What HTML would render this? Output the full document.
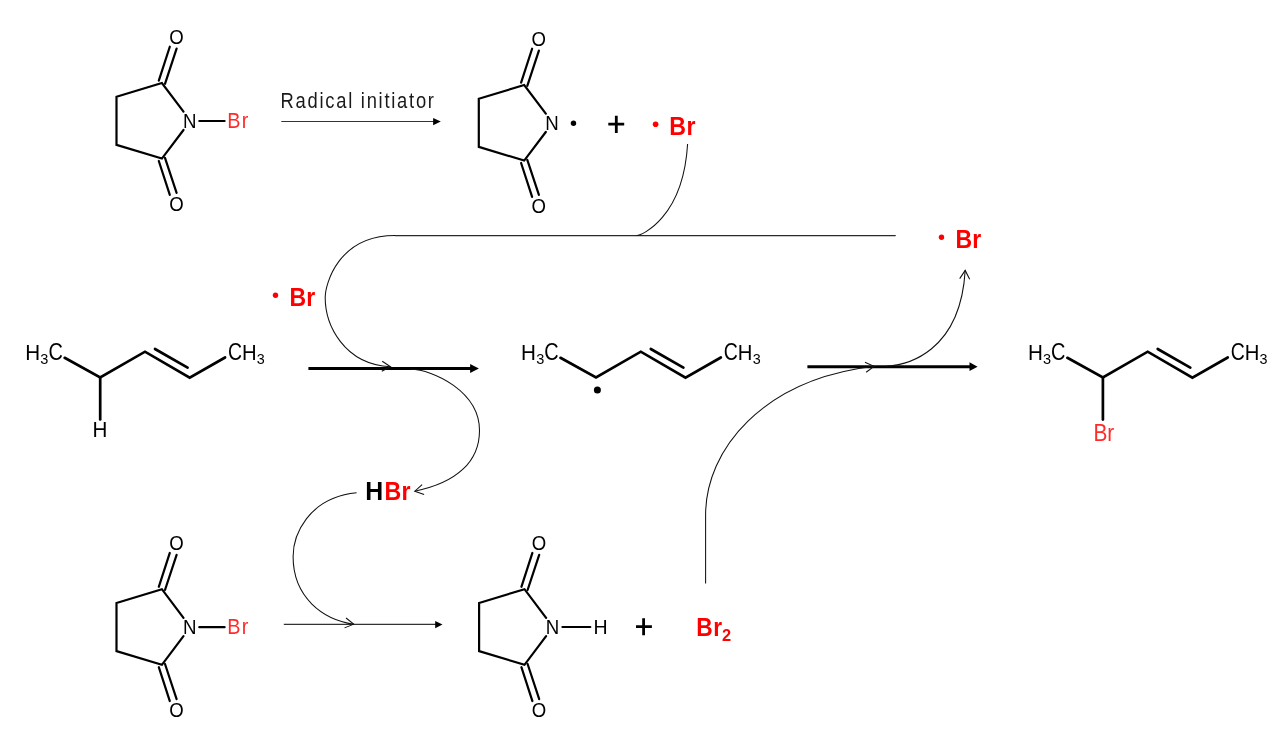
<!DOCTYPE html>
<html><head><meta charset="utf-8">
<style>
html,body{margin:0;padding:0;background:#fff;width:1280px;height:756px;overflow:hidden}
svg{display:block;will-change:transform}
text{font-family:"Liberation Sans",sans-serif}
.thin{}
.thin2{}
.b{stroke:#000;stroke-width:2.2;stroke-linecap:round;fill:none}
.bp{stroke:#000;stroke-width:2.7;stroke-linecap:round;fill:none}
.t{stroke:#111;stroke-width:1.05;fill:none}
</style></head>
<body>
<svg width="1280" height="756" viewBox="0 0 1280 756">
<defs>
  <g id="ring">
    <polyline class="b" points="183.5,111.6 161.9,83 116.5,96.8 116.5,144.9 161.9,158.6 183.5,130"/>
    <line class="b" x1="158.8" y1="80.6" x2="169.8" y2="46.75"/>
    <line class="b" x1="165" y1="83.8" x2="176.6" y2="48.65"/>
    <line class="b" x1="158.8" y1="161" x2="169.8" y2="194.85"/>
    <line class="b" x1="165" y1="157.8" x2="176.6" y2="192.95"/>
    <text transform="translate(169.22,44.10) scale(0.947,1)" style="font-size:19.64px;font-weight:normal;fill:#000;" class="thin">O</text>
    <text transform="translate(169.22,210.90) scale(0.961,1)" style="font-size:19.35px;font-weight:normal;fill:#000;" class="thin">O</text>
    <text transform="translate(183.06,127.80) scale(0.936,1)" style="font-size:19.93px;font-weight:normal;fill:#000;" class="thin">N</text>
</g>
  <g id="nbs">
    <use href="#ring"/>
    <line class="b" x1="199.3" y1="121" x2="224.6" y2="121"/>
    <text transform="translate(227.26,128.10) scale(0.880,1)" style="font-size:22.55px;font-weight:normal;fill:#ff2b2b;letter-spacing:1.47px;" class="thin">Br</text>
</g>
  <g id="pent">
    <polyline class="bp" points="64.65,357.8 100.2,377.5 145,351.7 189.7,377.7 225.06,357.5"/>
    <line class="bp" x1="155" y1="349" x2="187.6" y2="367.6"/>
    <text transform="translate(25.20,359.60) scale(0.915,1)" style="font-size:22.55px;font-weight:normal;fill:#000;" class="thin">H</text>
    <text transform="translate(40.36,364.34) scale(0.943,1)" style="font-size:15.40px;font-weight:normal;fill:#000;" class="thin">3</text>
    <text transform="translate(48.40,359.84) scale(0.866,1)" style="font-size:23.00px;font-weight:normal;fill:#000;" class="thin">C</text>
    <text transform="translate(227.93,359.84) scale(0.846,1)" style="font-size:23.00px;font-weight:normal;fill:#000;" class="thin">C</text>
    <text transform="translate(241.93,359.60) scale(0.899,1)" style="font-size:22.55px;font-weight:normal;fill:#000;" class="thin">H</text>
    <text transform="translate(256.86,364.34) scale(0.930,1)" style="font-size:15.40px;font-weight:normal;fill:#000;" class="thin">3</text>
</g>
  <marker id="oa" markerWidth="12" markerHeight="12" refX="10" refY="6" orient="auto" markerUnits="userSpaceOnUse">
    <path d="M1.5,1 L10,6 L1.5,11" fill="none" stroke="#111" stroke-width="1.05"/>
  </marker>
</defs>

<!-- top row -->
<use href="#nbs"/>
<line x1="281.3" y1="121.56" x2="434" y2="121.56" stroke="#333" stroke-width="1.1"/>
<polygon points="433.1,118 440.8,121.56 433.1,125.3" fill="#000"/>
<text transform="translate(280.58,107.80) scale(0.800,1)" style="font-size:22.98px;font-weight:normal;fill:#1a1a1a;letter-spacing:2.17px;" class="thin2">Radical initiator</text>

<use href="#ring" transform="translate(362.3,2)"/>
<circle cx="573.5" cy="123.3" r="2.7" fill="#000"/>
<path d="M608.3,124.1 H624.2 M616.3,115.7 V132.9" stroke="#000" stroke-width="2.8"/>
<circle cx="655.6" cy="124.3" r="2.8" fill="#ff0000"/>
<text transform="translate(669.24,135.10) scale(0.880,1)" style="font-size:26.33px;font-weight:bold;fill:#ff0000;letter-spacing:0.50px;" >Br</text>

<!-- bottom row -->
<use href="#nbs" transform="translate(0,506.2)"/>
<line x1="283.8" y1="624.4" x2="436" y2="624.4" stroke="#333" stroke-width="1.1"/>
<polygon points="435.2,621.1 442.5,624.5 435.2,628.2" fill="#000"/>
<use href="#ring" transform="translate(362.6,506.2)"/>
<line class="b" x1="562.4" y1="627" x2="590.3" y2="627"/>
<text transform="translate(593.39,633.80) scale(0.996,1)" style="font-size:19.64px;font-weight:normal;fill:#000;" class="thin">H</text>
<path d="M636,626.7 H651.9 M643.6,618.3 V635.2" stroke="#000" stroke-width="2.8"/>
<text transform="translate(696.26,636.10) scale(0.880,1)" style="font-size:25.89px;font-weight:bold;fill:#ff0000;letter-spacing:0.49px;" >Br</text>
<text transform="translate(722.12,640.80) scale(0.981,1)" style="font-size:16.77px;font-weight:bold;fill:#ff0000;" >2</text>

<!-- middle row -->
<use href="#pent"/>
<line class="bp" x1="100.2" y1="377.5" x2="100.2" y2="419.5"/>
<text transform="translate(92.60,437.40) scale(0.939,1)" style="font-size:21.96px;font-weight:normal;fill:#000;" class="thin">H</text>

<use href="#pent" transform="translate(495.8,0)"/>
<circle cx="597.4" cy="390.1" r="3.5" fill="#000"/>

<use href="#pent" transform="translate(1002.7,0)"/>
<line class="bp" x1="1102.9" y1="377.5" x2="1102.9" y2="419.6"/>
<text transform="translate(1093.38,441.00) scale(0.880,1)" style="font-size:23.71px;font-weight:normal;fill:#ff2b2b;letter-spacing:0.08px;" class="thin">Br</text>

<!-- thick arrows -->
<line x1="308.4" y1="368.5" x2="471" y2="368.5" stroke="#000" stroke-width="3"/>
<polygon points="470.1,364 478.9,368.5 470.1,373" fill="#000"/>
<line x1="807.4" y1="366.7" x2="970" y2="366.7" stroke="#000" stroke-width="3"/>
<polygon points="969.5,362.3 977.6,366.7 969.5,371.1" fill="#000"/>

<!-- radical labels -->
<circle cx="275.5" cy="295.2" r="2.7" fill="#ff0000"/>
<text transform="translate(289.44,306.00) scale(0.880,1)" style="font-size:26.18px;font-weight:bold;fill:#ff0000;letter-spacing:0.19px;" >Br</text>
<circle cx="941.5" cy="237.2" r="2.7" fill="#ff0000"/>
<text transform="translate(955.44,248.00) scale(0.880,1)" style="font-size:26.18px;font-weight:bold;fill:#ff0000;letter-spacing:0.19px;" >Br</text>

<text transform="translate(365.22,500.10) scale(0.944,1)" style="font-size:26.33px;font-weight:bold;fill:#000;" >H</text>
<text transform="translate(384.44,500.10) scale(0.880,1)" style="font-size:26.33px;font-weight:bold;fill:#ff0000;letter-spacing:0.27px;" >Br</text>

<!-- curved arrows -->
<line x1="395" y1="235.6" x2="895.3" y2="235.6" stroke="#2a2a2a" stroke-width="1.2" stroke-linecap="round"/>
<path class="t" d="M687.6,144 C683.2,217.9 641.6,235.5 636.6,235.5"/>
<path class="t" d="M395,235.5 C338,235.5 325.2,284.5 325.2,297.5 C325.2,324.5 343.6,364.4 390.5,366.7" marker-end="url(#oa)"/>
<path class="t" d="M410.3,369 C433.3,369.7 479.5,391.4 479.5,430.4 C479.5,461.4 456.9,482.7 414.8,491.2" marker-end="url(#oa)"/>
<path class="t" d="M356.6,492.8 C307.8,497.7 293.1,535.6 293.1,556.6 C293.1,597.6 323,619.6 353.7,624.2" marker-end="url(#oa)"/>
<path class="t" d="M705.6,583.6 L705.6,515 C705.6,450 761.8,379.8 874,366.3" marker-end="url(#oa)"/>
<path class="t" d="M886.1,366.3 C906.1,365.1 960.2,353.3 965.2,270.4" marker-end="url(#oa)"/>

</svg>
</body></html>
